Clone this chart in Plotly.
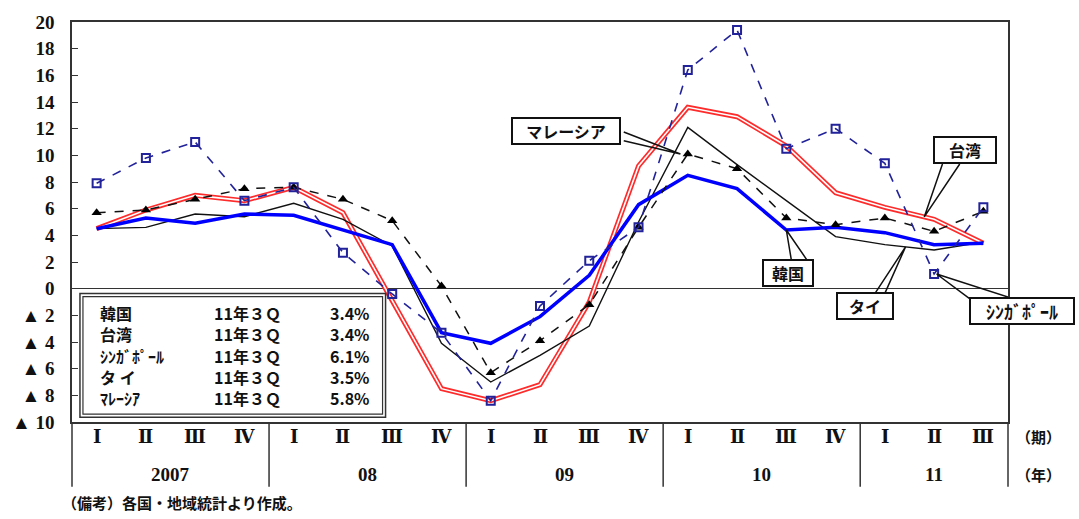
import plotly.graph_objects as go

# ---------------- data ----------------
quarters = ["Ⅰ", "Ⅱ", "Ⅲ", "Ⅳ", "Ⅰ", "Ⅱ", "Ⅲ", "Ⅳ", "Ⅰ", "Ⅱ", "Ⅲ", "Ⅳ",
            "Ⅰ", "Ⅱ", "Ⅲ", "Ⅳ", "Ⅰ", "Ⅱ", "Ⅲ"]
years = ["2007", "08", "09", "10", "11"]
year_quarters = [4, 4, 4, 4, 3]

korea = [4.5, 5.3, 4.9, 5.6, 5.5, 4.4, 3.3, -3.3, -4.1, -2.1, 1.0, 6.3, 8.5, 7.5, 4.4, 4.6, 4.2, 3.3, 3.4]
taiwan = [4.5, 5.9, 7.0, 6.6, 7.6, 5.7, -0.9, -7.5, -8.4, -7.2, -1.0, 9.2, 13.6, 12.9, 10.7, 7.2, 6.1, 5.2, 3.4]
singapore = [7.9, 9.8, 11.0, 6.6, 7.6, 2.7, -0.4, -3.3, -8.4, -1.3, 2.1, 4.6, 16.4, 19.4, 10.5, 12.0, 9.4, 1.1, 6.1]
thailand = [4.5, 4.6, 5.6, 5.4, 6.4, 5.2, 3.2, -4.1, -7.0, -5.0, -2.8, 5.0, 12.1, 9.3, 6.6, 3.9, 3.3, 2.9, 3.5]
malaysia = [5.7, 5.9, 6.7, 7.5, 7.6, 6.7, 5.1, 0.2, -6.3, -3.9, -1.2, 4.6, 10.1, 9.0, 5.3, 4.8, 5.3, 4.3, 5.8]

legend_names = ["韓国", "台湾", "ｼﾝｶﾞﾎﾟｰﾙ", "タ イ", "ﾏﾚｰｼｱ"]
legend_series = [korea, taiwan, singapore, thailand, malaysia]
latest_label = "11年３Ｑ"

y_tickvals = list(range(-10, 21, 2))
y_ticktext = [("▲ " + str(-v)) if v < 0 else str(v) for v in y_tickvals]

x = list(range(len(quarters)))

JP = "Noto Sans CJK JP"
SERIF = "Liberation Serif"

fig = go.Figure()

# Taiwan: red double line
fig.add_trace(go.Scatter(x=x, y=taiwan, mode="lines", line=dict(color="#ff2a2a", width=5),
                         hoverinfo="skip", showlegend=False))
fig.add_trace(go.Scatter(x=x, y=taiwan, mode="lines", line=dict(color="#ffffff", width=1.6),
                         hoverinfo="skip", showlegend=False))
# Thailand: thin black
fig.add_trace(go.Scatter(x=x, y=thailand, mode="lines", line=dict(color="#111111", width=1.4),
                         showlegend=False))
# Korea: thick blue
fig.add_trace(go.Scatter(x=x, y=korea, mode="lines", line=dict(color="#0000ff", width=3.5),
                         showlegend=False))
# Malaysia: dashed black with triangles
fig.add_trace(go.Scatter(x=x, y=malaysia, mode="lines+markers",
                         line=dict(color="#111111", width=1.5, dash="dash"),
                         marker=dict(symbol="triangle-up", size=9, color="#000000"),
                         showlegend=False))
# Singapore: dashed navy with open squares
fig.add_trace(go.Scatter(x=x, y=singapore, mode="lines+markers",
                         line=dict(color="#22229a", width=1.6, dash="dash"),
                         marker=dict(symbol="square-open", size=8, color="#22229a",
                                     line=dict(width=2, color="#22229a")),
                         showlegend=False))

# ---------------- axes ----------------
fig.update_xaxes(range=[-0.5, len(quarters) - 0.5], showticklabels=False, ticks="",
                 showgrid=False, zeroline=False, showline=True, linecolor="#333333",
                 linewidth=1.5, mirror=True)
fig.update_yaxes(range=[-10, 20], tickvals=y_tickvals, ticktext=y_ticktext,
                 ticks="inside", ticklen=6, tickcolor="#333333", tickwidth=1.2,
                 showgrid=False, zeroline=True, zerolinecolor="#333333", zerolinewidth=1.3,
                 showline=True, linecolor="#333333", linewidth=1.5, mirror=True,
                 tickfont=dict(family=SERIF, size=19, color="#111111", weight="bold"),
                 ticklabelstandoff=12)

shapes = []
annotations = []

# ---------------- category table below plot ----------------
for i, q in enumerate(quarters):
    annotations.append(dict(x=i, y=-0.037, xref="x", yref="paper", text=q, showarrow=False,
                            font=dict(family="DejaVu Serif", size=18, color="#111111", weight="bold"),
                            yanchor="middle"))
start = 0
for yr, n in zip(years, year_quarters):
    center = start + (n - 1) / 2
    annotations.append(dict(x=center, y=-0.131, xref="x", yref="paper", text=yr, showarrow=False,
                            font=dict(family=SERIF, size=19, color="#111111", weight="bold"),
                            yanchor="middle"))
    start += n
    if start < len(quarters):
        shapes.append(dict(type="line", xref="x", yref="paper", x0=start - 0.5, x1=start - 0.5,
                           y0=0, y1=-0.162, line=dict(color="#333333", width=1.5)))
for xp in (0, 1):
    shapes.append(dict(type="line", xref="paper", yref="paper", x0=xp, x1=xp, y0=0, y1=-0.162,
                       line=dict(color="#333333", width=1.5)))

annotations.append(dict(x=1.006, y=-0.037, xref="paper", yref="paper", text="（期）",
                        showarrow=False, xanchor="left", yanchor="middle",
                        font=dict(family=JP, size=15, color="#111111", weight="bold")))
annotations.append(dict(x=1.006, y=-0.131, xref="paper", yref="paper", text="（年）",
                        showarrow=False, xanchor="left", yanchor="middle",
                        font=dict(family=JP, size=15, color="#111111", weight="bold")))
annotations.append(dict(x=-0.013, y=-0.2, xref="paper", yref="paper",
                        text="（備考）各国・地域統計より作成。",
                        showarrow=False, xanchor="left", yanchor="middle",
                        font=dict(family=JP, size=15, color="#111111", weight="bold")))

# ---------------- legend table box ----------------
shapes.append(dict(type="rect", xref="paper", yref="paper", x0=0.0085, x1=0.335, y0=0.012, y1=0.321,
                   fillcolor="#ffffff", line=dict(color="#333333", width=1.5), layer="above"))
shapes.append(dict(type="rect", xref="paper", yref="paper", x0=0.0117, x1=0.3318, y0=0.0195, y1=0.3136,
                   fillcolor="rgba(0,0,0,0)", line=dict(color="#333333", width=1.2), layer="above"))
row_y = [0.2716, 0.2198, 0.1654, 0.1136, 0.0593]
for name, ser, yp in zip(legend_names, legend_series, row_y):
    annotations.append(dict(x=0.0278, y=yp, xref="paper", yref="paper", text=name, showarrow=False,
                            xanchor="left", yanchor="middle",
                            font=dict(family=JP, size=16, color="#111111", weight="bold")))
    annotations.append(dict(x=0.1496, y=yp, xref="paper", yref="paper", text=latest_label,
                            showarrow=False, xanchor="left", yanchor="middle",
                            font=dict(family=JP, size=16, color="#111111", weight="bold")))
    annotations.append(dict(x=0.3205, y=yp, xref="paper", yref="paper",
                            text=f"{ser[-1]:.1f}%", showarrow=False, xanchor="right", yanchor="middle",
                            font=dict(family=JP, size=16, color="#111111", weight="bold")))

# ---------------- callouts ----------------
def lerp(series, pos):
    i = int(pos)
    f = pos - i
    if i + 1 >= len(series):
        return series[i]
    return series[i] + f * (series[i + 1] - series[i])

def wedge(b1, b2, tip):
    return dict(type="path", xref="x", yref="y", layer="above",
                path=f"M {b1[0]},{b1[1]} L {tip[0]},{tip[1]} L {b2[0]},{b2[1]}",
                line=dict(color="#111111", width=1.5))

callouts = [
    # text, box center, refs, width, font size, b1, b2, tip
    ("マレーシア", (9.53, 11.8), ("x", "y"), 104, 16, (10.7, 11.75), (10.7, 11.1), (11.85, malaysia[12])),
    ("台湾", (17.62, 10.4), ("x", "y"), 58, 16, (17.17, 9.35), (17.52, 9.35), (16.8, lerp(taiwan, 16.8))),
    ("韓国", (14.04, 1.2), ("x", "y"), 46, 16, (14.1, 2.2), (14.41, 2.2), (14.0, korea[14])),
    ("タイ", (15.59, -1.33), ("x", "y"), 52, 16, (15.8, -0.35), (16.0, -0.35), (16.42, lerp(thailand, 16.42))),
    ("ｼﾝｶﾞﾎﾟｰﾙ", (1.015, 0.2765), ("paper", "paper"), 100, 18, (17.72, -0.75), (18.5, -0.62), (17.05, singapore[17])),
]
for text, (cx, cy), (xr, yr_), w, fs, b1, b2, tip in callouts:
    shapes.append(wedge(b1, b2, tip))
    annotations.append(dict(x=cx, y=cy, xref=xr, yref=yr_, text=text, showarrow=False,
                            xanchor="center", yanchor="middle",
                            width=w, height=22, bgcolor="#ffffff", bordercolor="#111111",
                            borderwidth=2, borderpad=1,
                            font=dict(family=JP, size=fs, color="#111111", weight="bold")))

fig.update_layout(width=1079, height=519, margin=dict(l=72, r=71, t=17, b=97),
                  paper_bgcolor="#ffffff", plot_bgcolor="#ffffff",
                  shapes=shapes, annotations=annotations, showlegend=False)

fig.write_html("out.html")
